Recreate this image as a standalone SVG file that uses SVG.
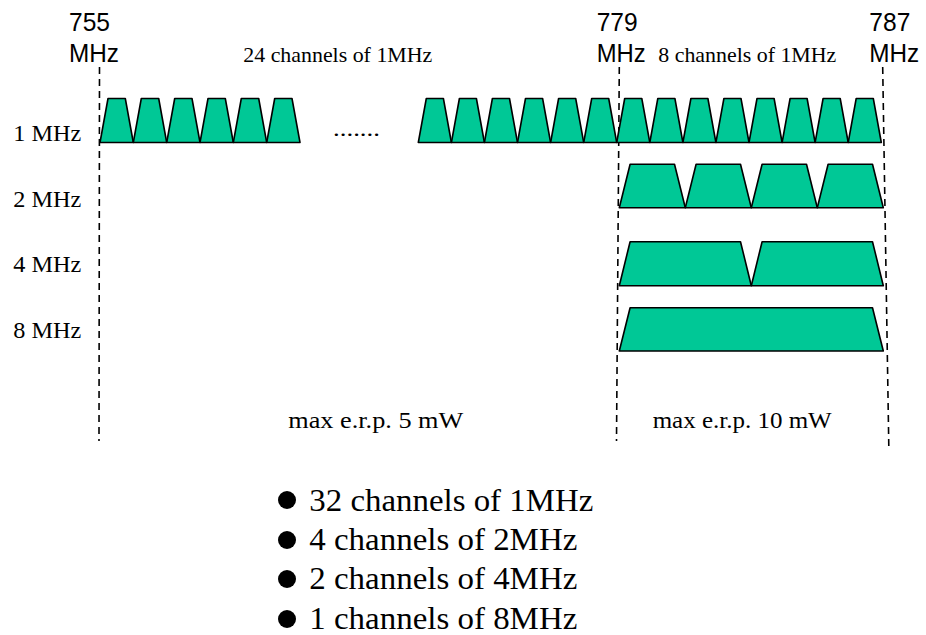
<svg xmlns="http://www.w3.org/2000/svg" width="926" height="635" viewBox="0 0 926 635">
<style>
.ch{fill:#00C896;stroke:#000;stroke-width:1.6;stroke-linejoin:round}
.dash{stroke:#000;stroke-width:1.6;stroke-dasharray:7,5;fill:none}
.ar{font-family:"Liberation Sans",Arial,sans-serif;font-size:25px;fill:#000}
.sf{font-family:"Liberation Serif","Times New Roman",serif;fill:#000}
</style>
<rect width="926" height="635" fill="#fff"/>
<g id="connectors">
<line class="dash" x1="99.5" y1="67" x2="99" y2="441"/>
<line class="dash" x1="619.3" y1="67" x2="616.5" y2="441"/>
<line class="dash" x1="882.7" y1="67" x2="888.8" y2="446"/>
</g>
<g id="freq-labels">
<text class="ar" x="69" y="30.5" textLength="41" lengthAdjust="spacingAndGlyphs">755</text>
<text class="ar" x="69" y="61.5" textLength="50" lengthAdjust="spacingAndGlyphs">MHz</text>
<text class="ar" x="596.7" y="30.5" textLength="41" lengthAdjust="spacingAndGlyphs">779</text>
<text class="ar" x="596.7" y="61.5" textLength="49" lengthAdjust="spacingAndGlyphs">MHz</text>
<text class="ar" x="869.3" y="30.5" textLength="41" lengthAdjust="spacingAndGlyphs">787</text>
<text class="ar" x="869.3" y="61.5" textLength="50" lengthAdjust="spacingAndGlyphs">MHz</text>
<text class="sf" font-size="21" x="243.3" y="61.5" textLength="189" lengthAdjust="spacingAndGlyphs">24 channels of 1MHz</text>
<text class="sf" font-size="21" x="658.3" y="61.5" textLength="178" lengthAdjust="spacingAndGlyphs">8 channels of 1MHz</text>
</g>
<g id="row-labels">
<text class="sf" font-size="22.5" x="13.3" y="140.7" textLength="68" lengthAdjust="spacingAndGlyphs">1 MHz</text>
<text class="sf" font-size="22.5" x="13.3" y="206.7" textLength="68" lengthAdjust="spacingAndGlyphs">2 MHz</text>
<text class="sf" font-size="22.5" x="13.3" y="272.3" textLength="68" lengthAdjust="spacingAndGlyphs">4 MHz</text>
<text class="sf" font-size="22.5" x="13.3" y="337.7" textLength="68" lengthAdjust="spacingAndGlyphs">8 MHz</text>
</g>
<g id="row-1mhz-a">
<polygon class="ch" points="100,142.5 108,98.5 125.3,98.5 133.3,142.5"/>
<polygon class="ch" points="133.3,142.5 141.3,98.5 158.7,98.5 166.7,142.5"/>
<polygon class="ch" points="166.7,142.5 174.7,98.5 192,98.5 200,142.5"/>
<polygon class="ch" points="200,142.5 208,98.5 225.3,98.5 233.3,142.5"/>
<polygon class="ch" points="233.3,142.5 241.3,98.5 258.7,98.5 266.7,142.5"/>
<polygon class="ch" points="266.7,142.5 274.7,98.5 292,98.5 300,142.5"/>
</g>
<g id="dots">
<text class="sf" font-size="20" x="333" y="136" textLength="47" lengthAdjust="spacingAndGlyphs">.......</text>
</g>
<g id="row-1mhz-b">
<polygon class="ch" points="418.3,142.5 426.3,98.5 443.4,98.5 451.4,142.5"/>
<polygon class="ch" points="451.4,142.5 459.4,98.5 476.4,98.5 484.4,142.5"/>
<polygon class="ch" points="484.4,142.5 492.4,98.5 509.5,98.5 517.5,142.5"/>
<polygon class="ch" points="517.5,142.5 525.5,98.5 542.6,98.5 550.6,142.5"/>
<polygon class="ch" points="550.6,142.5 558.6,98.5 575.7,98.5 583.7,142.5"/>
<polygon class="ch" points="583.7,142.5 591.7,98.5 608.7,98.5 616.7,142.5"/>
<polygon class="ch" points="616.7,142.5 624.7,98.5 641.8,98.5 649.8,142.5"/>
<polygon class="ch" points="649.8,142.5 657.8,98.5 674.9,98.5 682.9,142.5"/>
<polygon class="ch" points="682.9,142.5 690.9,98.5 707.9,98.5 715.9,142.5"/>
<polygon class="ch" points="715.9,142.5 723.9,98.5 741,98.5 749,142.5"/>
<polygon class="ch" points="749,142.5 757,98.5 774.1,98.5 782.1,142.5"/>
<polygon class="ch" points="782.1,142.5 790.1,98.5 807.1,98.5 815.1,142.5"/>
<polygon class="ch" points="815.1,142.5 823.1,98.5 840.2,98.5 848.2,142.5"/>
<polygon class="ch" points="848.2,142.5 856.2,98.5 873.3,98.5 881.3,142.5"/>
</g>
<g id="row-2mhz">
<polygon class="ch" points="619.3,207.7 630.1,164.3 674.5,164.3 685.3,207.7"/>
<polygon class="ch" points="685.3,207.7 696.1,164.3 740.5,164.3 751.3,207.7"/>
<polygon class="ch" points="751.3,207.7 762.1,164.3 806.5,164.3 817.3,207.7"/>
<polygon class="ch" points="817.3,207.7 828.1,164.3 872.5,164.3 883.3,207.7"/>
</g>
<g id="row-4mhz">
<polygon class="ch" points="619.3,285.7 630.1,241.7 740.5,241.7 751.3,285.7"/>
<polygon class="ch" points="751.3,285.7 762.1,241.7 872.5,241.7 883.3,285.7"/>
</g>
<g id="row-8mhz">
<polygon class="ch" points="619.3,351 630.1,307.7 872.5,307.7 883.3,351"/>
</g>
<g id="power-labels">
<text class="sf" font-size="24" x="288.3" y="428" textLength="175" lengthAdjust="spacingAndGlyphs">max e.r.p. 5 mW</text>
<text class="sf" font-size="24" x="652.7" y="428" textLength="179" lengthAdjust="spacingAndGlyphs">max e.r.p. 10 mW</text>
</g>
<g id="summary">
<circle cx="287" cy="500" r="9" fill="#000"/>
<circle cx="287" cy="540" r="9" fill="#000"/>
<circle cx="287" cy="579" r="9" fill="#000"/>
<circle cx="287" cy="619" r="9" fill="#000"/>
<text class="sf" font-size="31" x="309.3" y="511" textLength="284" lengthAdjust="spacingAndGlyphs">32 channels of 1MHz</text>
<text class="sf" font-size="31" x="309.3" y="550" textLength="268" lengthAdjust="spacingAndGlyphs">4 channels of 2MHz</text>
<text class="sf" font-size="31" x="309.3" y="589" textLength="268" lengthAdjust="spacingAndGlyphs">2 channels of 4MHz</text>
<text class="sf" font-size="31" x="309.3" y="629" textLength="268" lengthAdjust="spacingAndGlyphs">1 channels of 8MHz</text>
</g>
</svg>
